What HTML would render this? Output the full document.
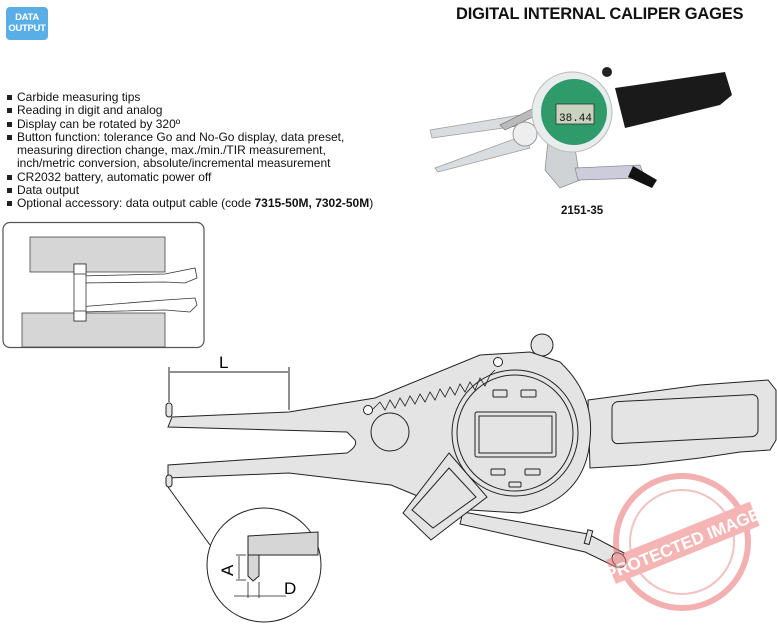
<!DOCTYPE html>
<html><head><meta charset="utf-8"><style>
body{margin:0;background:#fff;width:777px;height:625px;overflow:hidden;position:relative;font-family:"Liberation Sans",Arial,sans-serif}
.badge{position:absolute;left:6px;top:7px;width:42px;height:33px;background:#5aaee6;border-radius:4px;color:#fff;font-weight:bold;font-size:9.5px;line-height:11px;text-align:center;padding-top:5px;box-sizing:border-box;letter-spacing:-0.3px}
.title{position:absolute;left:456px;top:5px;font-size:16.5px;font-weight:bold;color:#111;letter-spacing:-0.2px}
ul{position:absolute;left:6px;top:91px;margin:0;padding:0;list-style:none;font-size:12px;line-height:13.3px;color:#111}
li{padding-left:11px;position:relative}
li:before{content:"";position:absolute;left:1px;top:4px;width:5px;height:5px;background:#222}
.model{position:absolute;left:561px;top:205px;font-size:11.5px;font-weight:bold;color:#111}
svg{position:absolute;left:0;top:0}
</style></head><body>
<div class="badge">DATA<br>OUTPUT</div>
<div class="title">DIGITAL INTERNAL CALIPER GAGES</div>
<ul>
<li>Carbide measuring tips</li>
<li>Reading in digit and analog</li>
<li>Display can be rotated by 320º</li>
<li>Button function: tolerance Go and No-Go display, data preset,<br>measuring direction change, max./min./TIR measurement,<br>inch/metric conversion, absolute/incremental measurement</li>
<li>CR2032 battery, automatic power off</li>
<li>Data output</li>
<li>Optional accessory: data output cable (code <b>7315-50M, 7302-50M</b>)</li>
</ul>
<div class="model">2151-35</div>
<svg width="777" height="625" viewBox="0 0 777 625">
<!-- photo -->
<g>
<polygon points="430,130 520,115 525,125 432,138" fill="#d9dde0" stroke="#999" stroke-width="0.7"/>
<polygon points="435,168 525,135 530,148 438,172" fill="#d9dde0" stroke="#999" stroke-width="0.7"/>
<polygon points="500,125 560,95 565,102 505,130" fill="#bbb" stroke="#777" stroke-width="0.7"/>
<circle cx="525" cy="134" r="12" fill="#eee" stroke="#999"/>
<polygon points="548,140 575,148 580,180 560,188 545,170" fill="#cfd3d6" stroke="#888" stroke-width="0.7"/>
<polygon points="575,168 640,165 645,178 578,180" fill="#ccd" stroke="#888" stroke-width="0.7"/>
<polygon points="633,166 657,180 652,188 628,177" fill="#111"/>
<polygon points="615,88 725,72 732,95 720,105 625,128" fill="#1a1a1a"/>
<circle cx="607" cy="72" r="5" fill="#222"/>
<circle cx="572" cy="112" r="40" fill="#e8ecec" stroke="#bbb"/>
<circle cx="574" cy="112" r="33" fill="#2f9a6a"/>
<rect x="556" y="104" width="38" height="20" fill="#c9d3c0" stroke="#333" stroke-width="0.8"/>
<text x="559" y="121" font-size="11" font-family="Liberation Mono,monospace" fill="#111">38.44</text>
</g>
<!-- inset box -->
<rect x="3" y="222.5" width="201" height="125" rx="7" fill="#fff" stroke="#555" stroke-width="1.2"/>
<rect x="30" y="237" width="135" height="35" fill="#d6d6d6" stroke="#444" stroke-width="0.8"/>
<rect x="22" y="313" width="143" height="34" fill="#d6d6d6" stroke="#444" stroke-width="0.8"/>
<polygon points="78,276 165,274 195,268 197,278 185,283 165,282 80,283" fill="#fff" stroke="#333" stroke-width="0.8"/>
<polygon points="78,307 165,300 195,298 197,305 190,312 165,310 80,312" fill="#fff" stroke="#333" stroke-width="0.8"/>
<rect x="74" y="264" width="12" height="57" fill="#fff" stroke="#333" stroke-width="0.8"/>
<rect x="74" y="264" width="12" height="10" fill="#fff" stroke="#333" stroke-width="0.8"/>
<rect x="74" y="311" width="12" height="10" fill="#fff" stroke="#333" stroke-width="0.8"/>
<!-- main drawing -->
<g stroke="#222" stroke-width="1" fill="#e4e4e4">
<circle cx="542" cy="345" r="11"/>
<polygon points="588,400 700,385 768,380 776,390 776,440 770,450 740,452 700,458 640,465 590,468"/>
<rect x="612" y="400" width="146" height="42" rx="6" transform="skewY(-3) translate(0,34)" fill="#e4e4e4"/>
<path d="M172,417 L289,412 L375,398 L480,355 L530,352 L560,362 Q595,395 590,440 Q585,500 520,513 L470,510 L420,497 L391,485 L289,473 L168,478 L168,465 L347,453 Q358,446 355,440 L347,432 L168,427 Z"/>
<polygon points="463,512 588,534 624,553 618,568 585,552 460,524"/>
<polygon points="449,453 487,497 431,540 403,513" fill="#e4e4e4"/>
<polygon points="449,468 476,497 433,528 412,510" fill="#e4e4e4"/>
<circle cx="390" cy="432" r="19"/>
<circle cx="515" cy="433" r="63"/>
<circle cx="515" cy="433" r="58"/>
<rect x="475" y="412" width="81" height="45" rx="2"/>
<rect x="479" y="416" width="73" height="37"/>
<rect x="493" y="390" width="14" height="7" rx="1"/><rect x="521" y="390" width="15" height="7" rx="1"/>
<rect x="491" y="469" width="14" height="6" rx="1"/><rect x="525" y="469" width="15" height="6" rx="1"/><rect x="509" y="482" width="12" height="5" rx="1"/>
<circle cx="368" cy="410" r="4.5" fill="#fff"/><circle cx="498" cy="362" r="4.5" fill="#fff"/>
<rect x="166" y="403" width="6" height="14" rx="3"/><rect x="166" y="475" width="6" height="12" rx="3"/>
<rect x="586" y="530" width="5" height="14" transform="rotate(15 588 537)"/>
<ellipse cx="619" cy="560" rx="6" ry="8" transform="rotate(-40 619 560)"/>
</g>
<polyline points="372,410 380,402 385,410 390,400 395,408 400,398 405,406 410,396 415,404 420,394 425,402 430,392 435,400 440,389 445,397 450,387 455,395 460,384 465,392 470,382 475,390 480,378 485,386 490,375 495,370" fill="none" stroke="#222" stroke-width="0.8"/>
<!-- L dim -->
<g stroke="#222" stroke-width="1" fill="none">
<line x1="169" y1="367" x2="169" y2="402"/><line x1="289" y1="367" x2="289" y2="410"/>
<line x1="170" y1="372" x2="288" y2="372"/>
<line x1="168" y1="487" x2="210" y2="545"/>
</g>
<text x="219" y="368" font-size="17" font-family="Liberation Sans,sans-serif">L</text>
<!-- detail circle -->
<circle cx="264" cy="565" r="57" fill="#fff" stroke="#222"/>
<polygon points="248,536 318,532 318,555 259,555 259,576 253,581 248,576" fill="#d6d6d6" stroke="#222"/>
<line x1="248" y1="555" x2="259" y2="555" stroke="#222"/>
<g stroke="#222" stroke-width="0.8"><line x1="236" y1="555" x2="246" y2="555"/><line x1="236" y1="580" x2="246" y2="580"/><line x1="239" y1="556" x2="239" y2="579"/>
<line x1="248" y1="582" x2="248" y2="598"/><line x1="259" y1="582" x2="259" y2="598"/><line x1="234" y1="596" x2="286" y2="596"/></g>
<text x="284" y="594" font-size="17">D</text>
<text transform="translate(233,576) rotate(-90)" font-size="17">A</text>
<!-- stamp -->
<g opacity="0.55">
<circle cx="682" cy="542" r="66" fill="none" stroke="#e87070" stroke-width="6"/>
<circle cx="682" cy="542" r="52" fill="none" stroke="#e89090" stroke-width="2"/>
<rect x="605" y="530" width="155" height="26" fill="#ee7a7a" transform="rotate(-22 682 542)"/>
<text x="682" y="550" font-size="17" font-weight="bold" fill="#fff" text-anchor="middle" transform="rotate(-22 682 542)">PROTECTED IMAGE</text>
</g>
</svg>
</body></html>
